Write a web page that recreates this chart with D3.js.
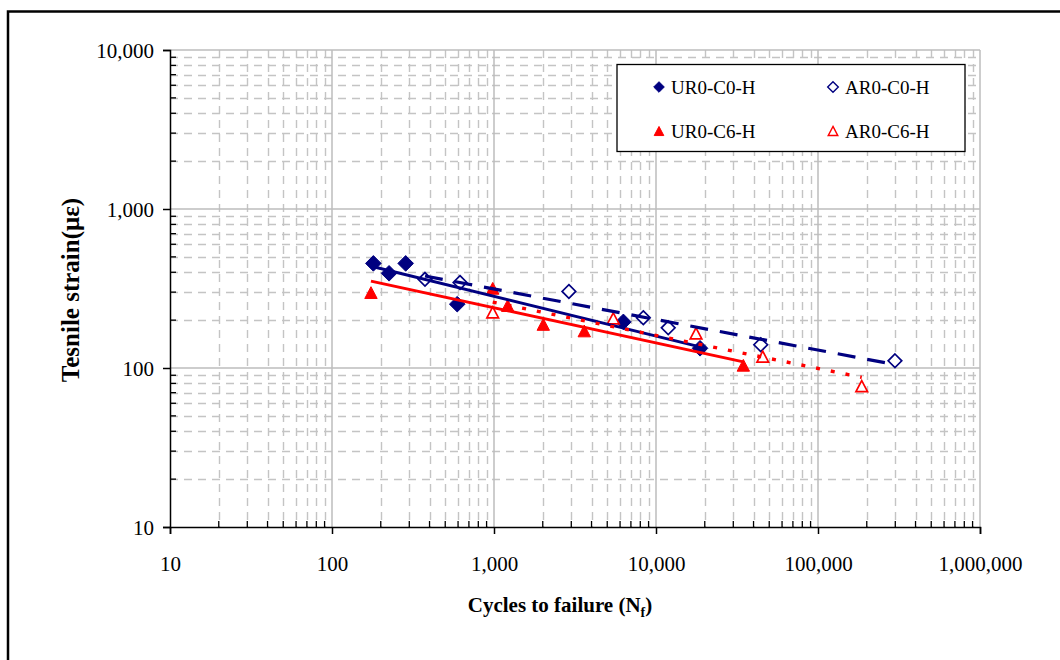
<!DOCTYPE html>
<html><head><meta charset="utf-8">
<script src="https://cdn.jsdelivr.net/npm/d3@7"></script>
<style>html,body{margin:0;padding:0;background:#fff;}svg{display:block;}</style>
</head><body>
<svg id="chart" width="1060" height="660"></svg>
<script>
// ---- data ----
const seriesNames = ["UR0-C0-H", "AR0-C0-H", "UR0-C6-H", "AR0-C6-H"];
const ur0c0Cycles = [180, 225, 285, 593, 6290, 18700];
const ur0c0Strain = [455, 394, 455, 252, 195, 133];
const ar0c0Cycles = [375, 617, 2900, 8350, 11900, 44300, 298600];
const ar0c0Strain = [361, 345, 303, 207, 179, 140, 111];
const ur0c6Cycles = [174, 982, 1215, 2015, 3608, 34600];
const ur0c6Strain = [298, 317, 247, 188, 171, 104];
const ar0c6Cycles = [982, 5450, 17660, 45600, 186200];
const ar0c6Strain = [224, 205, 165, 118, 77];
const xTickValues = [10, 100, 1000, 10000, 100000, 1000000];
const yTickValues = [10, 100, 1000, 10000];
const xTitle = "Cycles to failure (N";
const xTitleSub = "f";
const yTitle = "Tesnile strain(με)";

const svg = d3.select("#chart");
const W = 1060, H = 660;
const L = 170, R = 980, T = 50, B = 527;
const x = d3.scaleLog().domain([10, 1e6]).range([L, R]);
const y = d3.scaleLog().domain([10, 1e4]).range([B, T]);
const fmt = d3.format(",");
const font = "'Liberation Serif','Times New Roman',serif";

svg.append("rect").attr("width", W).attr("height", H).attr("fill", "#fff");
// outer frame
svg.append("rect").attr("x", 8).attr("y", 11.5).attr("width", 1200).attr("height", 800)
  .attr("fill", "none").attr("stroke", "#000").attr("stroke-width", 2.5);

// minor values
function minors(domain) {
  const out = [];
  for (let d = domain[0]; d < domain[1]; d *= 10)
    for (let k = 2; k <= 9; k++) out.push(d * k);
  return out;
}
const xMinor = minors([10, 1e6]);
const yMinor = minors([10, 1e4]);

const grid = svg.append("g");
grid.selectAll(".vmin").data(xMinor).join("line")
  .attr("x1", d => Math.round(x(d)) + 0.5).attr("x2", d => Math.round(x(d)) + 0.5)
  .attr("y1", T).attr("y2", B)
  .attr("stroke", "#c4c4c4").attr("stroke-width", 1.4).attr("stroke-dasharray", "8,6");
grid.selectAll(".hmin").data(yMinor).join("line")
  .attr("y1", d => Math.round(y(d)) + 0.5).attr("y2", d => Math.round(y(d)) + 0.5)
  .attr("x1", L).attr("x2", R)
  .attr("stroke", "#c4c4c4").attr("stroke-width", 1.4).attr("stroke-dasharray", "8,6");
grid.selectAll(".vmaj").data(xTickValues.slice(1)).join("line")
  .attr("x1", d => x(d)).attr("x2", d => x(d)).attr("y1", T).attr("y2", B)
  .attr("stroke", "#bdbdbd").attr("stroke-width", 1.5);
grid.selectAll(".hmaj").data(yTickValues.slice(1)).join("line")
  .attr("y1", d => y(d)).attr("y2", d => y(d)).attr("x1", L).attr("x2", R)
  .attr("stroke", "#bdbdbd").attr("stroke-width", 1.5);

// axes
const xAxis = svg.append("g").attr("transform", `translate(0,${B})`)
  .call(d3.axisBottom(x).tickValues(xTickValues).tickFormat(fmt).tickSize(7).tickPadding(22));
const yAxis = svg.append("g").attr("transform", `translate(${L},0)`)
  .call(d3.axisLeft(y).tickValues(yTickValues).tickFormat(fmt).tickSize(7).tickPadding(9));
[xAxis, yAxis].forEach(a => {
  a.select(".domain").attr("stroke", "#000").attr("stroke-width", 1.5);
  a.selectAll(".tick line").attr("stroke", "#000").attr("stroke-width", 1.5);
  a.selectAll("text").attr("font-family", font).attr("font-size", 21).attr("fill", "#000");
});
yAxis.selectAll("text").attr("dy", "0.36em");
// minor ticks (inward)
svg.append("g").selectAll("line").data(xMinor).join("line")
  .attr("x1", d => x(d)).attr("x2", d => x(d)).attr("y1", B).attr("y2", B - 6)
  .attr("stroke", "#000").attr("stroke-width", 1.3);
svg.append("g").selectAll("line").data(yMinor).join("line")
  .attr("y1", d => y(d)).attr("y2", d => y(d)).attr("x1", L).attr("x2", L + 6)
  .attr("stroke", "#000").attr("stroke-width", 1.3);

// markers
const NAVY = "#000080", RED = "#ff0000";
function diamond(s) { return `M0,${-s}L${s},0L0,${s}L${-s},0Z`; }
function tri(s) { const h = s * 0.95; return `M0,${-h}L${s},${h}L${-s},${h}Z`; }
const series = [
  { name: seriesNames[0], xs: ur0c0Cycles, ys: ur0c0Strain, color: NAVY, shape: diamond(7.8), fill: true, dash: null, w: 3 },
  { name: seriesNames[1], xs: ar0c0Cycles, ys: ar0c0Strain, color: NAVY, shape: diamond(6.8), fill: false, dash: "18,12", w: 3.2 },
  { name: seriesNames[2], xs: ur0c6Cycles, ys: ur0c6Strain, color: RED, shape: tri(6.2), fill: true, dash: null, w: 3 },
  { name: seriesNames[3], xs: ar0c6Cycles, ys: ar0c6Strain, color: RED, shape: tri(5.8), fill: false, dash: "4,11", w: 3.4 }
];
series.forEach(s => {
  const pts = s.xs.map((v, i) => [v, s.ys[i]]);
  svg.append("g").selectAll("path").data(pts).join("path")
    .attr("transform", d => `translate(${x(d[0])},${y(d[1])})`)
    .attr("d", s.shape)
    .attr("fill", s.fill ? s.color : "#fff")
    .attr("stroke", s.color).attr("stroke-width", s.fill ? 1 : 1.7);
});
// power trendlines (least squares in log-log space)
series.forEach(s => {
  const lx = s.xs.map(Math.log10), ly = s.ys.map(Math.log10);
  const mx = d3.mean(lx), my = d3.mean(ly);
  const b = d3.sum(lx, (v, i) => (v - mx) * (ly[i] - my)) / d3.sum(lx, v => (v - mx) ** 2);
  const a = my - b * mx;
  const ends = d3.extent(s.xs).map(v => [v, Math.pow(10, a + b * Math.log10(v))]);
  svg.append("path").datum(ends)
    .attr("d", d3.line().x(d => x(d[0])).y(d => y(d[1])))
    .attr("fill", "none").attr("stroke", s.color).attr("stroke-width", s.w)
    .attr("stroke-dasharray", s.dash);
});

// legend
const lg = svg.append("g");
lg.append("rect").attr("x", 617).attr("y", 64.5).attr("width", 348).attr("height", 87)
  .attr("fill", "#fff").attr("stroke", "#000").attr("stroke-width", 1.3);
const legPos = [[659, 87], [833, 87], [659, 131], [833, 131]];
series.forEach((s, i) => {
  const [px, py] = legPos[i];
  const shape = i < 2 ? diamond(5.3) : tri(4.8);
  lg.append("path").attr("transform", `translate(${px},${py})`).attr("d", shape)
    .attr("fill", s.fill ? s.color : "#fff").attr("stroke", s.color).attr("stroke-width", s.fill ? 1 : 1.4);
  lg.append("text").attr("x", px + 12).attr("y", py + 7)
    .attr("font-family", font).attr("font-size", 19).attr("fill", "#000").text(s.name);
});

// axis titles
const xt = svg.append("text").attr("x", 560).attr("y", 612).attr("text-anchor", "middle")
  .attr("font-family", font).attr("font-size", 21).attr("font-weight", "bold").attr("fill", "#000");
xt.append("tspan").text(xTitle);
xt.append("tspan").attr("font-size", 14).attr("dy", 5).text(xTitleSub);
xt.append("tspan").attr("dy", -5).text(")");
svg.append("text").attr("transform", "translate(79,290) rotate(-90)").attr("text-anchor", "middle")
  .attr("font-family", font).attr("font-size", 25).attr("font-weight", "bold").attr("fill", "#000")
  .text(yTitle);
</script>
</body></html>
